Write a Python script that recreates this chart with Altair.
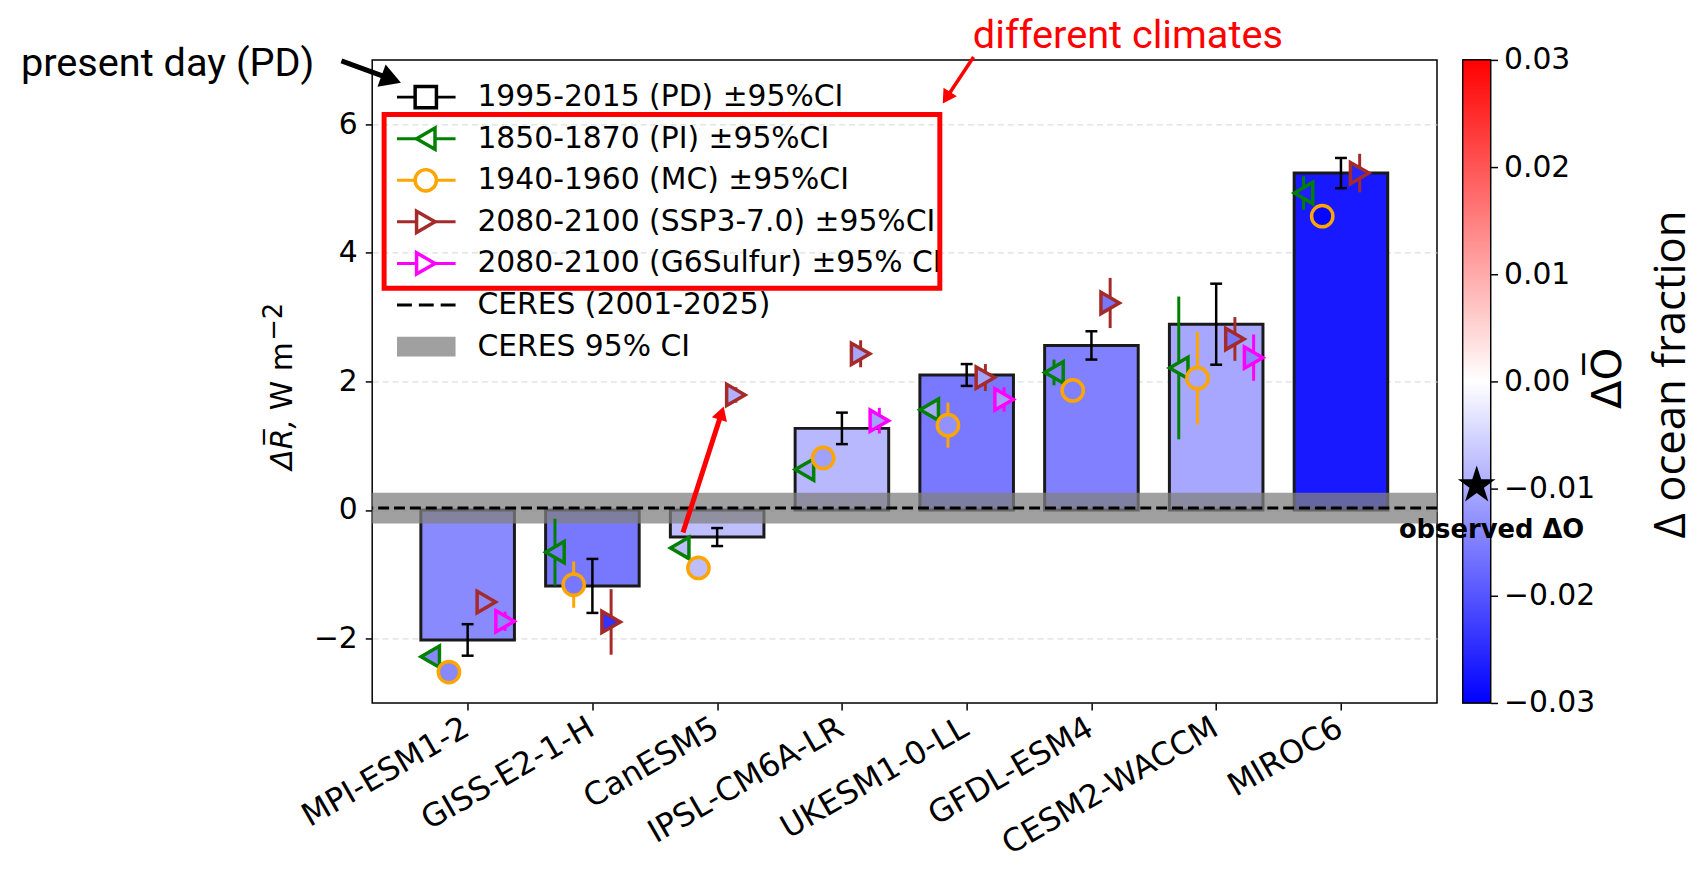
import json
import pandas as pd
import altair as alt

# ---------------- data ----------------
models = ["MPI-ESM1-2", "GISS-E2-1-H", "CanESM5", "IPSL-CM6A-LR",
          "UKESM1-0-LL", "GFDL-ESM4", "CESM2-WACCM", "MIROC6"]

# present day (bars) with 95% CI, and ocean-fraction change (bar colour)
pd_mean = [-2.02, -1.18, -0.42, 1.27, 2.10, 2.56, 2.89, 5.24]
pd_ci = [0.245, 0.42, 0.14, 0.245, 0.17, 0.22, 0.63, 0.235]
pd_dO = [-0.0138, -0.0159, -0.0075, -0.0084, -0.0158, -0.0148, -0.0104, -0.0270]

pi_mean = [-2.28, -0.655, -0.59, 0.63, 1.56, 2.14, 2.21, 4.93]
pi_ci = [0.10, 0.52, 0.06, 0.08, 0.10, 0.20, 1.11, 0.26]
pi_dO = [-0.0140, -0.0158, -0.0078, -0.0110, -0.0102, -0.0150, -0.0102, -0.0262]

mc_mean = [-2.52, -1.16, -0.90, 0.81, 1.32, 1.86, 2.05, 4.57]
mc_ci = [0.08, 0.36, 0.06, 0.08, 0.35, 0.08, 0.72, 0.08]
mc_dO = [-0.0140, -0.0160, -0.0076, -0.0112, -0.0128, -0.0150, -0.0102, -0.0292]

ssp_mean = [-1.43, -1.74, 1.79, 2.43, 2.06, 3.22, 2.66, 5.24]
ssp_ci = [0.10, 0.51, 0.12, 0.21, 0.21, 0.39, 0.34, 0.30]
ssp_dO = [-0.0136, -0.0240, -0.0092, -0.0105, -0.0110, -0.0160, -0.0160, -0.0255]

g6_mean = [-1.73, None, None, 1.39, 1.72, None, 2.37, None]
g6_ci = [0.15, None, None, 0.20, 0.19, None, 0.36, None]
g6_dO = [-0.0138, None, None, -0.0110, -0.0110, None, -0.0140, None]

ceres_mean = [0.03]
ceres_ci = [0.24]
obs_dO = [-0.0097]

y_ticks = [-2, 0, 2, 4, 6]
cbar_ticks = [-0.03, -0.02, -0.01, 0.0, 0.01, 0.02, 0.03]

legend_labels = ["1995-2015 (PD) \u00b195%CI", "1850-1870 (PI) \u00b195%CI",
                 "1940-1960 (MC) \u00b195%CI", "2080-2100 (SSP3-7.0) \u00b195%CI",
                 "2080-2100 (G6Sulfur) \u00b195% CI", "CERES (2001-2025)", "CERES 95% CI"]

# ---------------- styles ----------------
FONT = "DejaVu Sans"
FS = 30
W, H = 1073, 648
BAR_HALF = 0.375
series_style = {  # key: (shape, colour, x-offset within category)
    "PI": ("triangle-left", "#008000", -0.30),
    "MC": ("circle", "#ffa500", -0.15),
    "SSP": ("triangle-right", "#a52a2a", 0.15),
    "G6": ("triangle-right", "#ff00ff", 0.30),
}
leg_shapes = ["square", "triangle-left", "circle", "triangle-right", "triangle-right"]
leg_colors = ["#000000", "#008000", "#ffa500", "#a52a2a", "#ff00ff"]

# ---------------- tables ----------------
bars = pd.DataFrame({"idx": list(range(len(models))), "mean": pd_mean,
                     "ci": pd_ci, "dO": pd_dO})
rows = []
for key, means, cis, dos in [("PI", pi_mean, pi_ci, pi_dO), ("MC", mc_mean, mc_ci, mc_dO),
                             ("SSP", ssp_mean, ssp_ci, ssp_dO), ("G6", g6_mean, g6_ci, g6_dO)]:
    for i, (m, c, d) in enumerate(zip(means, cis, dos)):
        if m is None:
            continue
        rows.append({"idx": i, "series": key, "mean": m, "ci": c, "dO": d})
clim = pd.DataFrame(rows)
ceres = pd.DataFrame({"mean": ceres_mean, "ci": ceres_ci})
one = pd.DataFrame({"k": [0]})

# ---------------- scales / axes ----------------
xscale = alt.Scale(domain=[-0.765, 7.77], nice=False, zero=False)
yscale = alt.Scale(domain=[-3, 7], nice=False, zero=False)
cscale = alt.Scale(domain=[-0.03, 0, 0.03], range=["#0000ff", "#ffffff", "#ff0000"],
                   interpolate="rgb")

x_axis = alt.Axis(values=list(range(len(models))), title=None,
                  labelExpr=f"{json.dumps(models)}[datum.value]",
                  labelAngle=-30, labelAlign="right", labelBaseline="top",
                  labelFont=FONT, labelFontSize=32, labelColor="black",
                  labelOverlap=False, labelFlush=False, labelBound=False,
                  labelLimit=600, labelPadding=2, labelOffset=-9,
                  tickSize=7, tickWidth=1.5, tickColor="black",
                  domain=False, grid=False)
y_axis = alt.Axis(values=y_ticks, title=None, labelFont=FONT, labelFontSize=FS,
                  labelColor="black", labelPadding=8, labelFlush=False,
                  tickSize=7, tickWidth=1.5, tickColor="black", domain=False,
                  grid=True, gridColor="#d6d6d6", gridDash=[6, 4], gridWidth=1)

X = lambda f: alt.X(f, scale=xscale, axis=x_axis)
Y = lambda f: alt.Y(f, scale=yscale, axis=y_axis)

# ---------------- main plot layers ----------------
bar_layer = alt.Chart(bars).transform_calculate(
    x0=f"datum.idx - {BAR_HALF}", x1=f"datum.idx + {BAR_HALF}", zero="0"
).mark_rect(stroke="#1a1a1a", strokeWidth=3).encode(
    x=X("x0:Q"), x2="x1:Q", y=Y("mean:Q"), y2="zero:Q",
    fill=alt.Fill("dO:Q", scale=cscale, legend=None),
)

band = alt.Chart(ceres).transform_calculate(
    lo="datum.mean - datum.ci", hi="datum.mean + datum.ci"
).mark_rect(color="#808080", opacity=0.75).encode(y=Y("lo:Q"), y2="hi:Q")

ceres_line = alt.Chart(ceres).mark_rule(color="black", strokeWidth=3,
                                        strokeDash=[11, 5]).encode(y=Y("mean:Q"))

pd_base = alt.Chart(bars).transform_calculate(
    lo="datum.mean - datum.ci", hi="datum.mean + datum.ci")
pd_rule = pd_base.mark_rule(color="black", strokeWidth=2.5).encode(
    x=X("idx:Q"), y=Y("lo:Q"), y2="hi:Q")
pd_cap_lo = pd_base.mark_tick(orient="horizontal", size=12, thickness=2.5,
                              color="black", opacity=1).encode(x=X("idx:Q"), y=Y("lo:Q"))
pd_cap_hi = pd_base.mark_tick(orient="horizontal", size=12, thickness=2.5,
                              color="black", opacity=1).encode(x=X("idx:Q"), y=Y("hi:Q"))

series_layers = []
for key, (shape, col, off) in series_style.items():
    base = alt.Chart(clim).transform_filter(f"datum.series == '{key}'").transform_calculate(
        xp=f"datum.idx + ({off})", lo="datum.mean - datum.ci", hi="datum.mean + datum.ci")
    series_layers.append(base.mark_rule(color=col, strokeWidth=3).encode(
        x=X("xp:Q"), y=Y("lo:Q"), y2="hi:Q"))
    series_layers.append(base.mark_point(shape=shape, filled=True, size=460, stroke=col,
                                         strokeWidth=3.5, opacity=1).encode(
        x=X("xp:Q"), y=Y("mean:Q"), fill=alt.Fill("dO:Q", scale=cscale, legend=None)))

# red arrow CanESM5: PI -> SSP (annotation, data coordinates)
arrow_df = pd.DataFrame({"ax": [1.726], "ay": [-0.351], "bx": [2.035], "by": [1.507]})
red_shaft = alt.Chart(arrow_df).mark_rule(color="red", strokeWidth=5).encode(
    x=X("ax:Q"), y=Y("ay:Q"), x2="bx:Q", y2="by:Q")
red_head = alt.Chart(arrow_df).mark_point(shape="triangle-up", filled=True, color="red",
                                          size=256, angle=18, opacity=1).encode(
    x=X("bx:Q"), y=Y("by:Q"))

# ---------------- hand-made legend ----------------
LEG_Y0, LEG_DY = 37.5, 41.9
leg = pd.DataFrame({"row": list(range(len(legend_labels))), "label": legend_labels})
leg_mk = pd.DataFrame({"row": list(range(5)), "shape": leg_shapes, "col": leg_colors})
ypix = alt.Y("ypix:Q", scale=None)
leg_text = alt.Chart(leg).transform_calculate(ypix=f"{LEG_Y0} + {LEG_DY} * datum.row").mark_text(
    align="left", baseline="middle", font=FONT, fontSize=FS, color="black").encode(
    x=alt.value(106), y=ypix, text="label:N")
leg_line = alt.Chart(leg_mk).transform_calculate(ypix=f"{LEG_Y0} + {LEG_DY} * datum.row").mark_rule(
    strokeWidth=3).encode(x=alt.value(25), x2=alt.value(84), y=ypix,
                          color=alt.Color("col:N", scale=None))
leg_pt = alt.Chart(leg_mk).transform_calculate(ypix=f"{LEG_Y0} + {LEG_DY} * datum.row").mark_point(
    filled=True, fill="white", size=460, strokeWidth=3.5, opacity=1).encode(
    x=alt.value(54), y=ypix, shape=alt.Shape("shape:N", scale=None),
    stroke=alt.Stroke("col:N", scale=None))
leg_dash = alt.Chart(one).mark_rule(color="black", strokeWidth=3, strokeDash=[15, 7]).encode(
    x=alt.value(25), x2=alt.value(84), y=alt.value(LEG_Y0 + LEG_DY * 5))
leg_box = alt.Chart(one).mark_rect(color="#808080", opacity=0.75).encode(
    x=alt.value(25), x2=alt.value(84), y=alt.value(LEG_Y0 + LEG_DY * 6 - 10),
    y2=alt.value(LEG_Y0 + LEG_DY * 6 + 10))
red_frame = alt.Chart(one).mark_rect(filled=False, stroke="red", strokeWidth=5).encode(
    x=alt.value(12), x2=alt.value(572), y=alt.value(55), y2=alt.value(230))

# ---------------- annotations ----------------
pd_text = alt.Chart(one).mark_text(text="present day (PD)", align="left", baseline="alphabetic",
                                   font="Roboto", fontSize=40, color="black").encode(
    x=alt.value(-354), y=alt.value(16))
blk_shaft = alt.Chart(one).mark_rule(color="black", strokeWidth=5).encode(
    x=alt.value(-31), y=alt.value(1), x2=alt.value(19.2), y2=alt.value(19.4))
blk_head = alt.Chart(one).mark_point(shape="triangle-up", filled=True, color="black",
                                     size=576, angle=110, opacity=1).encode(
    x=alt.value(19.2), y=alt.value(19.4))
dc_text = alt.Chart(one).mark_text(text="different climates", align="center",
                                   baseline="alphabetic", font="Roboto", fontSize=40,
                                   color="red").encode(x=alt.value(761.5), y=alt.value(-12))
dc_shaft = alt.Chart(one).mark_rule(color="red", strokeWidth=3.5).encode(
    x=alt.value(606), y=alt.value(-3), x2=alt.value(578.7), y2=alt.value(38.2))
dc_head = alt.Chart(one).mark_point(shape="triangle-up", filled=True, color="red",
                                    size=256, angle=212.7, opacity=1).encode(
    x=alt.value(578.7), y=alt.value(38.2))

# y-axis title: "ΔR̄, W m^-2" built from three rotated pieces
YT_X, YT_Y = -81, 362
ytitle_a = alt.Chart(one).mark_text(text="\u0394R\u0305,", align="right", baseline="alphabetic",
                                    angle=270, font=FONT, fontStyle="italic",
                                    fontSize=FS, color="black").encode(
    x=alt.value(YT_X), y=alt.value(YT_Y))
ytitle_b = alt.Chart(one).mark_text(text="W m", align="left", baseline="alphabetic",
                                    angle=270, font=FONT, fontSize=FS, color="black").encode(
    x=alt.value(YT_X), y=alt.value(YT_Y - 9))
ytitle_c = alt.Chart(one).mark_text(text="\u22122", align="left", baseline="alphabetic",
                                    angle=270, font=FONT, fontSize=26, color="black").encode(
    x=alt.value(YT_X - 10), y=alt.value(YT_Y - 79))

main = alt.layer(
    bar_layer, band, ceres_line, pd_rule, pd_cap_lo, pd_cap_hi, *series_layers,
    red_shaft, red_head,
    leg_line, leg_pt, leg_dash, leg_box, leg_text, red_frame,
    pd_text, blk_shaft, blk_head, dc_text, dc_shaft, dc_head,
    ytitle_a, ytitle_b, ytitle_c,
).properties(width=W, height=H)

# ---------------- colour bar ----------------
cb_scale = alt.Scale(domain=[cbar_ticks[0], cbar_ticks[-1]], nice=False, zero=False)
cb_axis = alt.Axis(orient="right", values=cbar_ticks, format=".2f", title=None,
                   labelFont=FONT, labelFontSize=FS, labelColor="black", labelPadding=6,
                   labelFlush=False, tickSize=7, tickWidth=1.5, tickColor="black",
                   domain=False, grid=False)
grad = alt.LinearGradient(gradient="linear",
                          stops=[alt.GradientStop(color="#0000ff", offset=0),
                                 alt.GradientStop(color="#ffffff", offset=0.5),
                                 alt.GradientStop(color="#ff0000", offset=1)],
                          x1=0, x2=0, y1=1, y2=0)
cb_df = pd.DataFrame({"lo": [cbar_ticks[0]], "hi": [cbar_ticks[-1]]})
cb_rect = alt.Chart(cb_df).mark_rect(fill=grad, stroke="black", strokeWidth=1.2).encode(
    y=alt.Y("lo:Q", scale=cb_scale, axis=cb_axis), y2="hi:Q")
STAR = ("M0,-1L0.2245,-0.309L0.951,-0.309L0.363,0.118L0.588,0.809L0,0.382"
        "L-0.588,0.809L-0.363,0.118L-0.951,-0.309L-0.2245,-0.309Z")
star = alt.Chart(pd.DataFrame({"dO": obs_dO})).mark_point(
    shape=STAR, filled=True, color="black", size=1600, opacity=1).encode(
    y=alt.Y("dO:Q", scale=cb_scale, axis=cb_axis), x=alt.value(14))
obs_text = alt.Chart(one).mark_text(text="observed \u0394O", font=FONT, fontWeight="bold",
                                    fontSize=26, align="center", baseline="middle",
                                    color="black").encode(x=alt.value(29), y=alt.value(474))
cb_t1 = alt.Chart(one).mark_text(text="\u0394O\u0305", angle=270, align="center",
                                 baseline="middle", font=FONT, fontSize=42,
                                 color="black").encode(x=alt.value(146), y=alt.value(321))
cb_t2 = alt.Chart(one).mark_text(text="\u0394 ocean fraction", angle=270, align="center",
                                 baseline="middle", font="Open Sans", fontSize=44,
                                 color="black").encode(x=alt.value(211), y=alt.value(317))
cbar = alt.layer(cb_rect, star, obs_text, cb_t1, cb_t2).properties(width=28, height=H)

chart = alt.hconcat(main, cbar, spacing=26, bounds="flush").properties(
    padding={"left": 12, "top": 4, "right": 3, "bottom": 2},
    background="white",
).configure_view(stroke="black", strokeWidth=1.5)

chart.save("out.html", embed_options={"renderer": "svg", "actions": False})
